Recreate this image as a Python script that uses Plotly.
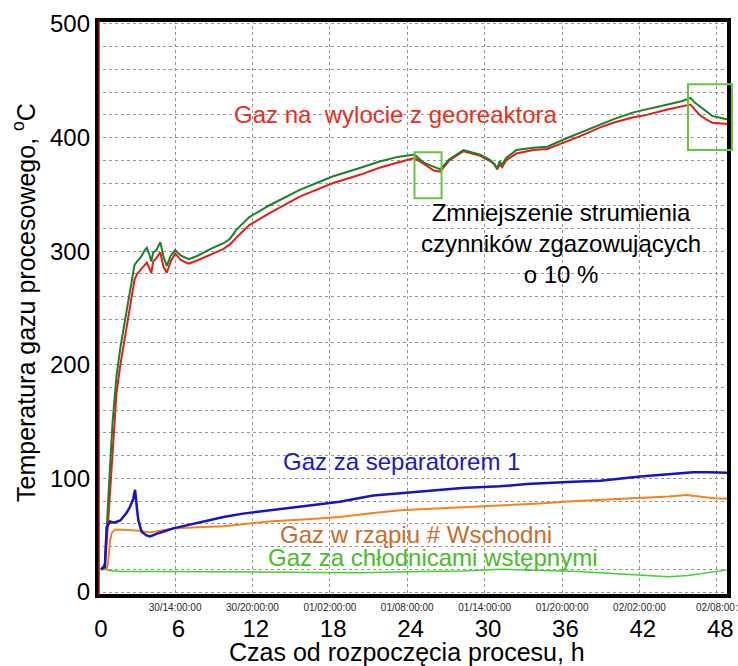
import plotly.graph_objects as go

# ---------------- data ----------------
hours_main = [0.0, 0.3, 0.6, 0.9, 1.2, 1.5, 1.8, 2.1, 2.4, 2.6, 2.8, 3.1, 3.4, 3.55, 3.75, 3.9,
              4.05, 4.3, 4.6, 4.85, 5.1, 5.4, 5.75, 6.2, 6.8, 7.5, 8.5, 9.5, 10.0, 10.5, 11.5,
              13.0, 15.4, 18.0, 20.0, 21.6, 23.0, 24.3, 25.0, 25.8, 26.3, 27.0, 28.1, 29.4,
              30.2, 30.5, 30.7, 30.9, 31.1, 31.4, 32.2, 33.5, 34.6, 36.0, 37.1, 38.7, 39.7,
              41.2, 42.3, 43.9, 45.0, 45.7, 46.0, 46.4, 46.9, 47.4, 48.6]
gas_outlet_green = [20, 25, 90, 150, 190, 215, 235, 255, 275, 288, 291, 295, 301, 303, 297, 291,
                    299, 301, 308, 295, 287, 296, 301, 296, 293, 296, 302, 307, 311, 319, 330,
                    340, 354, 366, 373, 379, 383, 385, 378, 374, 372, 381, 389, 385,
                    380, 376, 373, 379, 376, 382, 389, 391, 392, 399, 404, 411, 416,
                    422, 425, 429, 432, 435, 431, 427.6, 423, 419, 416]
gas_outlet_red = [20, 22, 70, 125, 175, 200, 220, 240, 262, 275, 280, 284, 289, 290, 285, 281,
                  291, 294, 299, 286, 281, 291, 298, 292, 289, 292, 297, 302, 306, 312, 323,
                  333, 348, 360, 367, 373.5, 378, 382, 377, 371, 370, 380, 388, 384,
                  379, 377, 372, 376, 374, 380, 386, 389, 390, 396, 401, 409, 413,
                  417.6, 420, 424.7, 427.5, 429, 425, 420, 416, 413, 412]

hours_sep = [0, 0.3, 0.44, 0.7, 1.0, 1.5, 2.0, 2.25, 2.5, 2.64, 2.8, 2.9, 3.15, 3.5, 3.8, 4.5,
             5.6, 7.5, 9.5, 11, 13.3, 16, 18.5, 21.1, 23.2, 26.3, 28, 30.9, 33, 36.6, 38.7,
             41.8, 43.9, 45.9, 47, 48.6]
gas_separator = [20, 22, 57, 62, 61, 63, 70, 75, 82, 90, 72, 63, 53, 50, 49, 52,
                 56, 61, 66, 69, 72, 76, 79.5, 85, 87, 90, 91.5, 93, 95, 97, 98,
                 101.6, 103.5, 105.5, 105.5, 105]

hours_sump = [0, 0.45, 0.55, 0.7, 0.83, 1.1, 2.0, 3.0, 3.8, 5.6, 7.5, 9.5, 10.8, 13, 16, 18.5,
              21.1, 23.2, 26, 28, 31, 34, 36.5, 38.7, 41.8, 44, 45.4, 46.4, 47.5, 48.6]
gas_sump = [20, 20, 26, 45, 52, 55, 54.5, 54, 52.5, 56, 57, 58, 59.5, 62, 64, 66,
            69.5, 72, 73.5, 74.5, 76.5, 78, 80, 81, 83, 84, 85.5, 84, 82.5, 82]

hours_cool = [0, 0.3, 0.6, 1.5, 5, 10, 15, 20, 25, 28, 31, 34, 37, 40, 42, 44, 45.5, 47, 48.6]
gas_cooler = [20, 21, 19, 18, 18, 17.5, 17, 17, 18, 18.5, 20, 19, 18, 16, 14.5, 13.5, 14.5, 17, 19.5]

hour_ticks = [0, 6, 12, 18, 24, 30, 36, 42, 48]
clock_tick_hours = [5.74, 11.74, 17.74, 23.74, 29.74, 35.74, 41.74, 47.74]
clock_tick_labels = ["30/14:00:00", "30/20:00:00", "01/02:00:00", "01/08:00:00",
                     "01/14:00:00", "01/20:00:00", "02/02:00:00", "02/08:00:"]
y_ticks = [0, 100, 200, 300, 400, 500]

FONT = "Liberation Sans, Arial, sans-serif"
XR = [-0.31, 48.68]
YR = [-3.5, 503.5]

fig = go.Figure()
fig.add_trace(go.Scatter(x=hours_main, y=gas_outlet_red, mode="lines",
                         line=dict(color="rgb(235,25,25)", width=2)))
fig.add_trace(go.Scatter(x=hours_main, y=gas_outlet_green, mode="lines",
                         line=dict(color="rgb(25,130,40)", width=2)))
fig.add_trace(go.Scatter(x=hours_cool, y=gas_cooler, mode="lines",
                         line=dict(color="rgb(60,215,40)", width=1.5)))
fig.add_trace(go.Scatter(x=hours_sump, y=gas_sump, mode="lines",
                         line=dict(color="rgb(245,130,30)", width=2)))
fig.add_trace(go.Scatter(x=hours_sep, y=gas_separator, mode="lines",
                         line=dict(color="rgb(20,20,200)", width=2.5)))
# hour axis carrier (invisible)
fig.add_trace(go.Scatter(x=[0], y=[0], xaxis="x2", mode="markers", marker=dict(opacity=0),
                         hoverinfo="skip"))

grid = dict(gridcolor="rgb(150,150,150)", gridwidth=1, griddash="dot")

fig.update_layout(
    width=738, height=666,
    margin=dict(l=97, r=9, t=20, b=70, autoexpand=False),
    paper_bgcolor="white", plot_bgcolor="white",
    showlegend=False,
    font=dict(family=FONT, color="black"),
    xaxis=dict(range=XR, tickmode="array", tickvals=clock_tick_hours, ticktext=clock_tick_labels,
               tickfont=dict(size=10, color="rgb(40,40,40)"), showgrid=True, **grid,
               zeroline=False, showline=False, ticks="", ticklabelstandoff=4, automargin=False),
    xaxis2=dict(range=XR, overlaying="x", anchor="y", side="bottom", tickmode="array",
                tickvals=hour_ticks, ticktext=[str(v) for v in hour_ticks],
                tickfont=dict(size=24, color="black"), showgrid=False, zeroline=False,
                showline=False, ticks="", ticklabelstandoff=16, automargin=False),
    yaxis=dict(range=YR, tickmode="array", tickvals=y_ticks, tickfont=dict(size=24, color="black"),
               showgrid=True, **grid, zeroline=False, showline=False, ticks="",
               ticklabelstandoff=6, automargin=False,
               minor=dict(tickmode="linear", tick0=0, dtick=20, showgrid=True, **grid)),
)

ann_font = dict(family=FONT, size=24)
annotations = [
    dict(x=22.79, y=420.3, text="Gaz na\u00a0 wylocie z georeaktora",
         font=dict(ann_font, color="rgb(235,45,30)")),
    dict(x=35.66, y=306.6, text="Zmniejszenie strumienia<br>czynników zgazowujących<br>o 10 %",
         font=dict(ann_font, color="black")),
    dict(x=23.33, y=114.5, text="Gaz za separatorem 1", font=dict(ann_font, color="rgb(25,25,205)")),
    dict(x=24.42, y=50.2, text="Gaz w rząpiu # Wschodni", font=dict(ann_font, color="rgb(200,110,45)")),
    dict(x=25.66, y=30.0, text="Gaz za chłodnicami wstępnymi", font=dict(ann_font, color="rgb(70,190,40)")),
]
for a in annotations:
    a.update(xref="x", yref="y", showarrow=False, xanchor="center", yanchor="middle")
    fig.add_annotation(**a)

# axis titles
fig.add_annotation(xref="paper", yref="paper", x=(406.5 - 97) / 632, y=(596 - 652) / 576,
                   text="Czas od rozpoczęcia procesu, h", showarrow=False,
                   font=dict(family=FONT, size=25, color="black"), xanchor="center", yanchor="middle")
fig.add_annotation(xref="paper", yref="paper", x=(24 - 97) / 632, y=(596 - 303) / 576,
                   text="Temperatura gazu procesowego, <sup>o</sup>C", showarrow=False, textangle=-90,
                   font=dict(family=FONT, size=25, color="black"), xanchor="center", yanchor="middle")

# frame
fig.add_shape(type="rect", xref="paper", yref="paper", x0=0, x1=1, y0=0, y1=1,
              line=dict(color="black", width=4), layer="above")
fig.add_shape(type="line", xref="paper", yref="paper", x0=2 / 632, x1=2 / 632, y0=0, y1=1,
              line=dict(color="rgb(170,20,20)", width=1.5), layer="above")

# highlight boxes
box_green = "rgb(100,200,60)"
fig.add_shape(type="rect", xref="x", yref="y", x0=24.3, x1=26.4, y0=346.7, y1=387.2,
              line=dict(color=box_green, width=2), layer="above")
fig.add_shape(type="rect", xref="paper", yref="y", x0=(688 - 97) / 632, x1=(732 - 97) / 632,
              y0=389, y1=447, line=dict(color=box_green, width=2), layer="above")

fig.write_html("out.html", config={"displayModeBar": False},
               post_script="document.body.style.margin='0';document.body.style.overflow='hidden';")
